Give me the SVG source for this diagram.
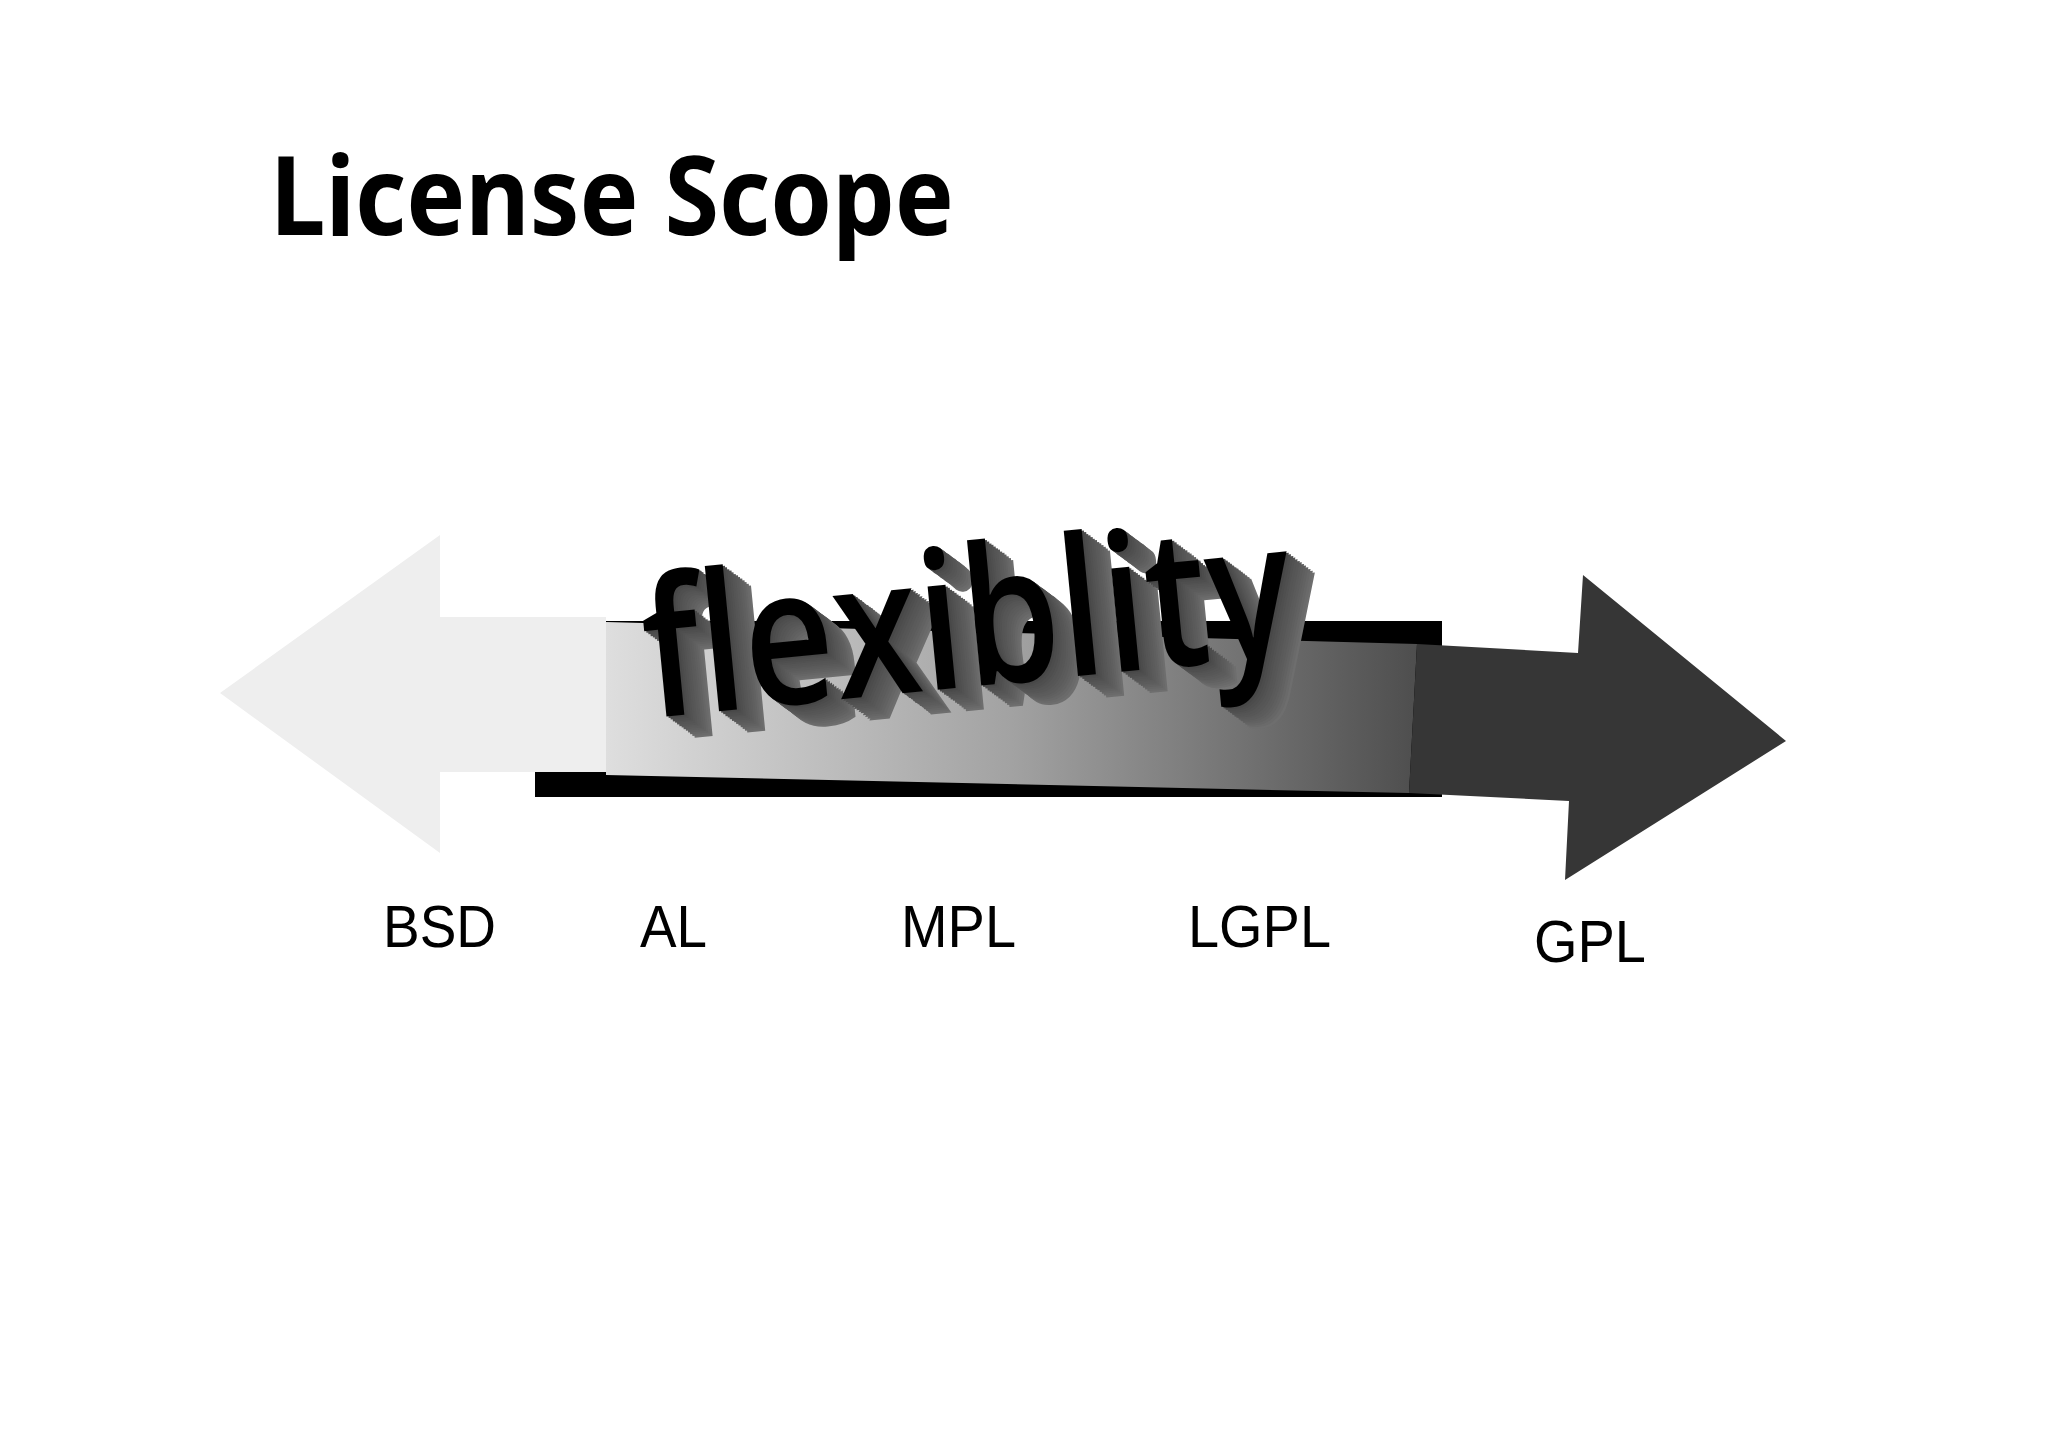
<svg xmlns="http://www.w3.org/2000/svg" xmlns:xlink="http://www.w3.org/1999/xlink" width="2048" height="1448" viewBox="0 0 2048 1448">
<style>
.lbl{font-family:"Liberation Sans",Arial,sans-serif;font-size:60px;fill:#000}
.title{font-family:"Noto Sans","Open Sans",sans-serif;font-weight:700;font-size:110px;fill:#000}
.flex{font-family:"Open Sans","Noto Sans",sans-serif;font-weight:600;font-size:192px}
</style>
<defs>
<linearGradient id="band" x1="606" y1="0" x2="1417" y2="0" gradientUnits="userSpaceOnUse">
<stop offset="0" stop-color="#dedede"/>
<stop offset="0.5" stop-color="#a2a2a2"/>
<stop offset="1" stop-color="#4e4e4e"/>
</linearGradient>
<text id="fx" class="flex" x="0" y="0" textLength="650" lengthAdjust="spacingAndGlyphs">flexiblity</text>
</defs>
<rect width="2048" height="1448" fill="#fff"/>
<g id="title"><text class="title" x="270" y="235" textLength="684" lengthAdjust="spacingAndGlyphs">License Scope</text></g>
<g id="connectors">
<rect id="backbar" x="535" y="621" width="907" height="176" fill="#000"/>
<polygon id="left-arrow" points="220,693 440,535 440,617 606,617 606,772 440,772 440,853" fill="#eeeeee"/>
<polygon id="band-body" points="606,622 1417,644 1409,793 606,775" fill="url(#band)"/>
<polygon id="right-arrow" points="1417,644 1578,653 1583,575 1786,741 1565,880 1569,801 1409,793" fill="#363636"/>
</g>
<g id="flexibility" transform="translate(650,718) rotate(-5.6)">
<use xlink:href="#fx" x="26" y="24" fill="#6e6e6e"/>
<use xlink:href="#fx" x="24" y="22" fill="#6a6a6a"/>
<use xlink:href="#fx" x="22" y="20" fill="#666"/>
<use xlink:href="#fx" x="20" y="18" fill="#626262"/>
<use xlink:href="#fx" x="18" y="16" fill="#5f5f5f"/>
<use xlink:href="#fx" x="16" y="14.5" fill="#5c5c5c"/>
<use xlink:href="#fx" x="14" y="12.5" fill="#5a5a5a"/>
<use xlink:href="#fx" x="12" y="11" fill="#575757"/>
<use xlink:href="#fx" x="10" y="9" fill="#555"/>
<use xlink:href="#fx" x="8" y="7" fill="#525252"/>
<use xlink:href="#fx" x="6" y="5.5" fill="#4f4f4f"/>
<use xlink:href="#fx" x="4" y="3.5" fill="#4c4c4c"/>
<use xlink:href="#fx" x="2" y="1.8" fill="#484848"/>
<use xlink:href="#fx" x="0" y="0" fill="#000"/>
</g>
<g id="labels">
<g id="bsd"><text class="lbl" x="383" y="947" textLength="113" lengthAdjust="spacingAndGlyphs">BSD</text></g>
<g id="al"><text class="lbl" x="640" y="947" textLength="67" lengthAdjust="spacingAndGlyphs">AL</text></g>
<g id="mpl"><text class="lbl" x="901" y="947" textLength="115" lengthAdjust="spacingAndGlyphs">MPL</text></g>
<g id="lgpl"><text class="lbl" x="1188" y="947" textLength="143" lengthAdjust="spacingAndGlyphs">LGPL</text></g>
<g id="gpl"><text class="lbl" x="1534" y="962" textLength="112" lengthAdjust="spacingAndGlyphs">GPL</text></g>
</g>
</svg>
